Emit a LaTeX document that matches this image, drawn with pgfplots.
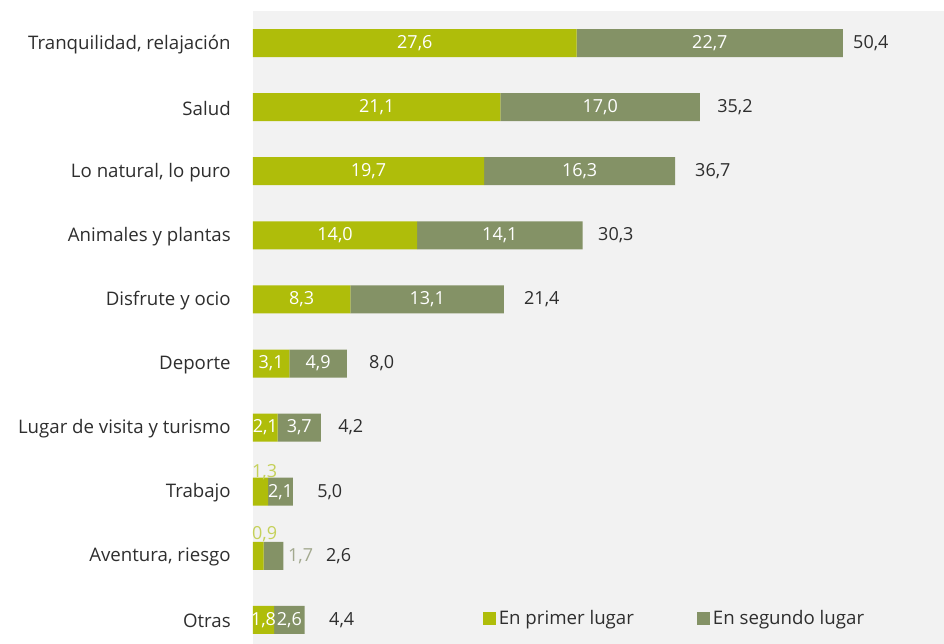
\documentclass[border=0pt]{standalone}
\usepackage{fontspec}
\setmainfont{Open Sans}
\usepackage{pgfplots}
\pgfplotsset{compat=1.18}
\usepackage{pgfplotstable}

\definecolor{verde}{HTML}{AFBD0A}
\definecolor{gris}{HTML}{849266}
\definecolor{fondo}{HTML}{F2F2F2}
\definecolor{texto}{HTML}{2E2E2E}
\definecolor{verdeclaro}{HTML}{C5D15A}
\definecolor{grisclaro}{HTML}{A3A98F}

% idx: 0 = arriba
\pgfplotstableread{
idx primer segundo lprimer lsegundo
0 27.6 22.7 27,6 22,7
1 21.1 17.0 21,1 17,0
2 19.7 16.3 19,7 16,3
3 14.0 14.1 14,0 14,1
4 8.3  13.1 8,3  13,1
5 3.1  4.9  3,1  4,9
6 2.1  3.7  2,1  3,7
7 1.3  2.1  {}   2,1
8 0.9  1.7  {}   {}
9 1.8  2.6  1,8  2,6
}\datos

% totales (posicion del borde izquierdo del texto)
\pgfplotstableread{
x y label
51.15 0 50,4
39.56 1 35,2
37.68 2 36,7
29.41 3 30,3
23.10 4 21,4
9.89  5 8,0
7.25  6 4,2
5.46  7 5,0
6.22  8 2,6
6.48  9 4,4
}\totales

\pgfplotsset{
  marco/.style={
    scale only axis,
    width=518.25pt, height=474.75pt,
    xmin=0, xmax=58.9,
    ymin=-0.5, ymax=9.375,
    y dir=reverse,
  },
}
\tikzset{num/.style={font=\fontsize{13.5}{15}\selectfont}}

\begin{document}
\begin{tikzpicture}
\begin{axis}[
  marco,
  xbar stacked,
  bar width=21pt,
  axis background/.style={fill=fondo},
  axis line style={draw=none},
  xtick=\empty,
  ytick={0,...,9},
  yticklabels={{Tranquilidad, relajación}, Salud, {Lo natural, lo puro},
    Animales y plantas, Disfrute y ocio, Deporte, Lugar de visita y turismo,
    Trabajo, {Aventura, riesgo}, Otras},
  major tick length=0pt,
  yticklabel style={font=\fontsize{14}{16}\selectfont, text=texto, inner sep=0pt, xshift=-16.5pt, yshift=-1pt},
  legend columns=2,
  legend style={at={(0.327,0.040)}, anchor=west, draw=none, fill=none,
    font=\fontsize{14}{16}\selectfont, text=texto,
    /tikz/every even column/.append style={column sep=45.5pt}},
  legend cell align=left,
]
\addplot[fill=verde, draw=none,
  nodes near coords, point meta=explicit symbolic,
  every node near coord/.append style={text=white, num},
  legend image code/.code={\fill[verde] (0pt,-4.9pt) rectangle (9.75pt,4.9pt);}]
  table[x=primer, y=idx, meta=lprimer] {\datos};
\addplot[fill=gris, draw=none,
  nodes near coords, point meta=explicit symbolic,
  every node near coord/.append style={text=white, num},
  legend image code/.code={\fill[gris] (0pt,-4.9pt) rectangle (9.75pt,4.9pt);}]
  table[x=segundo, y=idx, meta=lsegundo] {\datos};
\legend{En primer lugar, En segundo lugar}
\end{axis}

% etiquetas libres (totales y valores fuera de la barra)
\begin{axis}[marco, hide axis]
\addplot[only marks, mark=none,
  nodes near coords, point meta=explicit symbolic,
  every node near coord/.style={anchor=west, inner sep=0pt, text=texto, num}]
  table[x=x, y=y, meta=label] {\totales};
\addplot[only marks, mark=none,
  nodes near coords, point meta=explicit symbolic,
  every node near coord/.style={anchor=center, inner sep=0pt, text=verdeclaro, num}]
  coordinates {(1.0,6.69) [1,3] (1.0,7.66) [0,9]};
\addplot[only marks, mark=none,
  nodes near coords, point meta=explicit symbolic,
  every node near coord/.style={anchor=west, inner sep=0pt, text=grisclaro, num}]
  coordinates {(2.98,8) [1,7]};
\end{axis}
\path (-189.75pt,0pt) rectangle (518.25pt,483pt);
\end{tikzpicture}
\end{document}
